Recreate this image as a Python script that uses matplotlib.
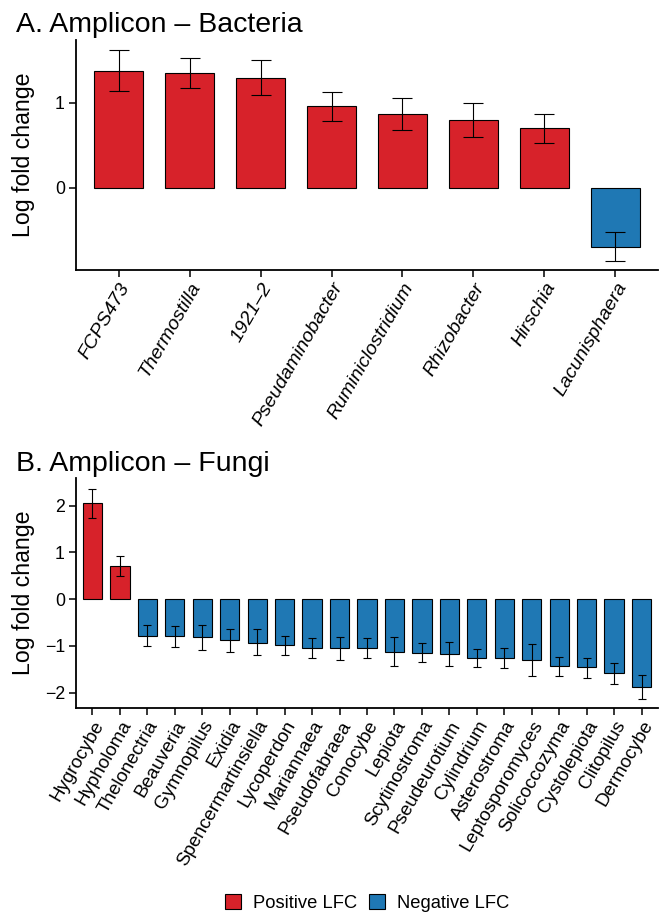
import matplotlib
matplotlib.use("Agg")
import matplotlib.pyplot as plt
from matplotlib.patches import Patch
import numpy as np

plt.rcParams['font.family'] = ['Liberation Sans', 'DejaVu Sans']

# panel A data
bac_genus = ["FCPS473", "Thermostilla", "1921\u20132", "Pseudaminobacter",
             "Ruminiclostridium", "Rhizobacter", "Hirschia", "Lacunisphaera"]
bac_lfc = [1.38, 1.35, 1.29, 0.96, 0.87, 0.80, 0.70, -0.69]
bac_lo = [1.14, 1.17, 1.09, 0.79, 0.68, 0.60, 0.53, -0.86]
bac_hi = [1.62, 1.53, 1.50, 1.13, 1.06, 1.00, 0.87, -0.52]

# panel B data
fun_genus = ["Hygrocybe", "Hypholoma", "Thelonectria", "Beauveria", "Gymnopilus",
             "Exidia", "Spencermartinsiella", "Lycoperdon", "Mariannaea",
             "Pseudofabraea", "Conocybe", "Lepiota", "Scytinostroma",
             "Pseudeurotium", "Cylindrium", "Asterostroma", "Leptosporomyces",
             "Solicoccozyma", "Cystolepiota", "Clitopilus", "Dermocybe"]
fun_lfc = [2.05, 0.70, -0.78, -0.80, -0.82, -0.88, -0.93, -0.98, -1.05, -1.05,
           -1.05, -1.13, -1.15, -1.18, -1.25, -1.26, -1.30, -1.43, -1.46, -1.59, -1.88]
fun_lo = [1.73, 0.49, -1.00, -1.03, -1.08, -1.13, -1.20, -1.20, -1.26, -1.30,
          -1.27, -1.44, -1.35, -1.43, -1.45, -1.47, -1.65, -1.64, -1.68, -1.81, -2.13]
fun_hi = [2.36, 0.92, -0.56, -0.58, -0.56, -0.63, -0.65, -0.78, -0.83, -0.81,
          -0.84, -0.82, -0.94, -0.92, -1.06, -1.04, -0.96, -1.23, -1.25, -1.37, -1.62]

POS = "#D7222A"
NEG = "#1F78B4"
W, H = 662, 915


def panel(ax, names, lfc, lo, hi, ylim, yticks, italic, cap, xsize):
    x = np.arange(len(names))
    lfc = np.array(lfc)
    colors = [POS if v > 0 else NEG for v in lfc]
    ax.bar(x, lfc, width=0.7, color=colors, edgecolor="black", linewidth=0.8, zorder=2)
    yerr = np.vstack([lfc - np.array(lo), np.array(hi) - lfc])
    ax.errorbar(x, lfc, yerr=yerr, fmt="none", ecolor="black", elinewidth=0.8,
                capsize=cap, capthick=0.8, zorder=3)
    ax.set_xlim(-0.6, len(names) - 0.4)
    ax.set_ylim(*ylim)
    ax.set_yticks(yticks)
    ax.set_yticklabels([str(t).replace("-", "\u2212") for t in yticks])
    ax.set_xticks(x)
    ax.set_xticklabels(names, rotation=60, ha="right", va="top",
                       rotation_mode="anchor", fontsize=xsize,
                       style="italic" if italic else "normal")
    for s in ["top", "right"]:
        ax.spines[s].set_visible(False)
    for s in ["left", "bottom"]:
        ax.spines[s].set_linewidth(1.3)
    ax.tick_params(axis="both", length=5, width=1.1, color="black")
    ax.tick_params(axis="y", labelsize=12.8, pad=3)
    ax.tick_params(axis="x", pad=2)
    ax.set_ylabel("Log fold change", fontsize=16.7)
    ax.yaxis.set_label_coords((35 - 76) / 582, 0.5)


fig = plt.figure(figsize=(W / 100, H / 100), dpi=100)
axA = fig.add_axes([76 / W, 1 - 270 / H, 582 / W, 230 / H])
axB = fig.add_axes([76 / W, 1 - 708 / H, 582 / W, 230 / H])

panel(axA, bac_genus, bac_lfc, bac_lo, bac_hi, (-0.965, 1.74), [0, 1], True, 7, 14.0)
panel(axB, fun_genus, fun_lfc, fun_lo, fun_hi, (-2.33, 2.59), [-2, -1, 0, 1, 2], False, 2.8, 13.6)

fig.text(16 / W, 1 - 32 / H, "A. Amplicon \u2013 Bacteria", fontsize=20.5, va="baseline")
fig.text(16 / W, 1 - 471 / H, "B. Amplicon \u2013 Fungi", fontsize=20.5, va="baseline")

handles = [Patch(facecolor=POS, edgecolor="black", linewidth=0.8, label="Positive LFC"),
           Patch(facecolor=NEG, edgecolor="black", linewidth=0.8, label="Negative LFC")]
fig.legend(handles=handles, loc="center", bbox_to_anchor=(367 / W, 1 - 903 / H),
           ncol=2, frameon=False, fontsize=13.2, handlelength=0.87, handleheight=0.87,
           handletextpad=0.66, columnspacing=0.66, borderpad=0)

fig.savefig("out.png", dpi=100)
